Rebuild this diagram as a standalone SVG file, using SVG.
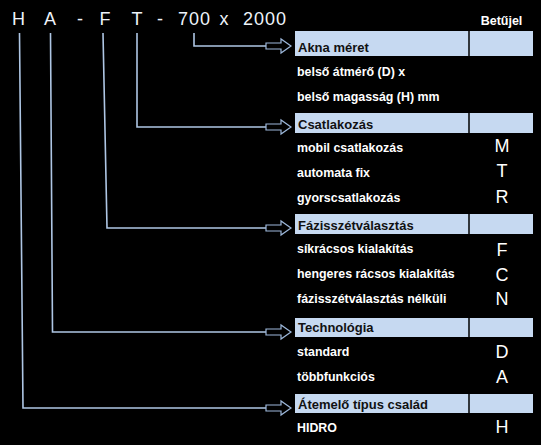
<svg xmlns="http://www.w3.org/2000/svg" xmlns:xlink="http://www.w3.org/1999/xlink" width="541" height="445" viewBox="0 0 541 445">
<style>
.bg{fill:#000}
.code{font-family:"Liberation Sans",Arial,sans-serif;font-size:18px;fill:#fff;text-anchor:middle}
.tok{font-family:"Liberation Sans",Arial,sans-serif;font-size:18px;fill:#eef3fa;text-anchor:middle}
.row{font-family:"Liberation Sans",Arial,sans-serif;font-size:12.4px;font-weight:bold;fill:#fff}
.hdr{font-family:"Liberation Sans",Arial,sans-serif;font-size:13px;font-weight:bold;fill:#111}
.hbox{fill:#c6d9f1}
.div{stroke:#000;stroke-width:1.5}
.conn{fill:none;stroke:#aec6e4;stroke-width:1.6}
.arr{fill:#000;stroke:#9db8db;stroke-width:1.2;stroke-linejoin:miter}
</style>
<defs>
<path id="arrow" class="arr" d="M0,-3 H15 V-7 L25,0 L15,7 V3 H0 Z"/>
</defs>
<rect class="bg" x="0" y="0" width="541" height="445"/>

<g id="code-string">
<text class="tok" x="18.5" y="25">H</text>
<text class="tok" x="50" y="25">A</text>
<text class="tok" x="80" y="25">-</text>
<text class="tok" x="105" y="25">F</text>
<text class="tok" x="137" y="25">T</text>
<text class="tok" x="160" y="25">-</text>
<text class="tok" x="194.5" y="25" letter-spacing="1">700</text>
<text class="tok" x="224" y="25">x</text>
<text class="tok" x="265" y="25" letter-spacing="1">2000</text>
<text class="row" x="501.5" y="25" text-anchor="middle" style="font-size:12.5px">Betűjel</text>
</g>

<g id="connectors">
<path class="conn" d="M194,33 V46 H266"/>
<path class="conn" d="M137,33 V127 H266"/>
<path class="conn" d="M103,33 L107,228 H266"/>
<path class="conn" d="M50.5,33 L52.5,332 H266"/>
<path class="conn" d="M19.5,33 L23,408 H266"/>
<use xlink:href="#arrow" x="266" y="46"/>
<use xlink:href="#arrow" x="266" y="127"/>
<use xlink:href="#arrow" x="266" y="228"/>
<use xlink:href="#arrow" x="266" y="332"/>
<use xlink:href="#arrow" x="266" y="408"/>
</g>

<g id="akna">
<rect class="hbox" x="295" y="31" width="238" height="25"/>
<line class="div" x1="469" y1="31" x2="469" y2="56"/>
<text class="hdr" x="298" y="52">Akna méret</text>
<text class="row" x="297" y="76">belső átmérő (D) x</text>
<text class="row" x="297" y="101">belső magasság (H) mm</text>
</g>

<g id="csatlakozas">
<rect class="hbox" x="295" y="113" width="238" height="20"/>
<line class="div" x1="469" y1="113" x2="469" y2="133"/>
<text class="hdr" x="298" y="129">Csatlakozás</text>
<text class="row" x="297" y="152">mobil csatlakozás</text>
<text class="row" x="297" y="177">automata fix</text>
<text class="row" x="297" y="202">gyorscsatlakozás</text>
<text class="code" x="502" y="152">M</text>
<text class="code" x="502" y="177">T</text>
<text class="code" x="502" y="203">R</text>
</g>

<g id="fazis">
<rect class="hbox" x="295" y="214" width="238" height="20"/>
<line class="div" x1="469" y1="214" x2="469" y2="234"/>
<text class="hdr" x="298" y="230">Fázisszétválasztás</text>
<text class="row" x="297" y="253">síkrácsos kialakítás</text>
<text class="row" x="297" y="278">hengeres rácsos kialakítás</text>
<text class="row" x="297" y="303">fázisszétválasztás nélküli</text>
<text class="code" x="502" y="256">F</text>
<text class="code" x="502" y="281">C</text>
<text class="code" x="502" y="305">N</text>
</g>

<g id="technologia">
<rect class="hbox" x="295" y="318" width="238" height="19"/>
<line class="div" x1="469" y1="318" x2="469" y2="337"/>
<text class="hdr" x="298" y="332">Technológia</text>
<text class="row" x="297" y="356">standard</text>
<text class="row" x="297" y="381">többfunkciós</text>
<text class="code" x="502" y="358">D</text>
<text class="code" x="502" y="383">A</text>
</g>

<g id="atemelo">
<rect class="hbox" x="295" y="394" width="238" height="19"/>
<line class="div" x1="469" y1="394" x2="469" y2="413"/>
<text class="hdr" x="298" y="409">Átemelő típus család</text>
<text class="row" x="297" y="432">HIDRO</text>
<text class="code" x="502" y="433">H</text>
</g>
</svg>
